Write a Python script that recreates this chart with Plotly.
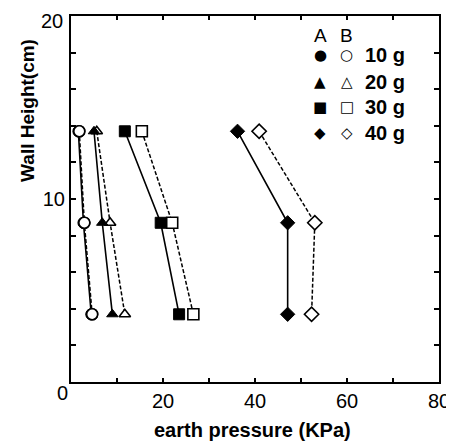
import plotly.graph_objects as go

heights = [13.7, 8.7, 3.7]
labels = ["10 g", "20 g", "30 g", "40 g"]
series_A = {
    "10 g": [1.6, 2.7, 4.4],
    "20 g": [5.0, 6.8, 9.0],
    "30 g": [11.7, 19.5, 23.5],
    "40 g": [36.2, 47.1, 47.1],
}
series_B = {
    "10 g": [1.8, 2.9, 4.6],
    "20 g": [5.6, 8.5, 11.7],
    "30 g": [15.4, 22.0, 26.6],
    "40 g": [40.9, 53.0, 52.3],
}
symbols = {"10 g": "circle", "20 g": "triangle-up", "30 g": "square", "40 g": "diamond"}
legend_glyphs = {"10 g": ("\u25cf", "\u25cb"), "20 g": ("\u25b2", "\u25b3"),
                 "30 g": ("\u25a0", "\u25a1"), "40 g": ("\u25c6", "\u25c7")}
x_ticks = [0, 10, 20, 30, 40, 50, 60, 70, 80]
x_ticklabels = ["", "", "20", "", "40", "", "60", "", "80"]
y_ticks = [0, 2, 4, 6, 8, 10, 12, 14, 16, 18, 20]
y_ticklabels = ["", "", "", "", "", "10", "", "", "", "", ""]
y_top_label = "20"

fig = go.Figure()
for lab in labels:
    sz = 10 if lab == "20 g" else 11
    fig.add_trace(go.Scatter(
        x=series_B[lab], y=heights, mode="lines+markers",
        line=dict(color="black", width=1.5, dash="4px,2px"),
        marker=dict(symbol=symbols[lab], size=sz, color="white",
                    line=dict(color="black", width=1.6)),
        showlegend=False))
    fig.add_trace(go.Scatter(
        x=series_A[lab], y=heights, mode="lines+markers",
        line=dict(color="black", width=1.6),
        marker=dict(symbol=symbols[lab], size=sz, color="black",
                    line=dict(color="black", width=1)),
        showlegend=False))
fig.add_trace(go.Scatter(
    x=series_B["10 g"], y=heights, mode="markers",
    marker=dict(symbol="circle", size=11, color="white", line=dict(color="black", width=1.6)),
    showlegend=False))

font = "Liberation Sans, Arial, sans-serif"
ann = []
for txt, xx in (("A", 0.677), ("B", 0.749)):
    ann.append(dict(x=xx, y=0.948, xref="paper", yref="paper", text=txt, showarrow=False,
                    font=dict(size=19, family=font, color="black"), xanchor="center", yanchor="middle"))
row_y = [0.893, 0.820, 0.751, 0.680]
for lab, yy in zip(labels, row_y):
    f, o = legend_glyphs[lab]
    ann.append(dict(x=0.677, y=yy, xref="paper", yref="paper", text=f, showarrow=False,
                    font=dict(size=15, family="DejaVu Sans", color="black"), xanchor="center", yanchor="middle"))
    ann.append(dict(x=0.749, y=yy, xref="paper", yref="paper", text=o, showarrow=False,
                    font=dict(size=15, family="DejaVu Sans", color="black"), xanchor="center", yanchor="middle"))
    ann.append(dict(x=0.793, y=yy, xref="paper", yref="paper", text="<b>" + lab + "</b>", showarrow=False,
                    font=dict(size=20, family=font, color="black"), xanchor="left", yanchor="middle"))
ann.append(dict(x=-0.12, y=0.743, xref="paper", yref="paper", text="<b>Wall Height(cm)</b>",
                textangle=-90, showarrow=False, font=dict(size=19, family=font, color="black"),
                xanchor="center", yanchor="middle"))
ann.append(dict(x=0.493, y=-0.13, xref="paper", yref="paper", text="<b>earth pressure (KPa)</b>",
                showarrow=False, font=dict(size=20, family=font, color="black"),
                xanchor="center", yanchor="middle"))
ann.append(dict(x=-0.024, y=-0.03, xref="paper", yref="paper", text="0", showarrow=False,
                font=dict(size=20, family=font, color="black"), xanchor="center", yanchor="middle"))
ann.append(dict(x=-0.016, y=1.0, xref="paper", yref="paper", text=y_top_label, showarrow=False,
                yshift=8, font=dict(size=20, family=font, color="black"), xanchor="right", yanchor="top"))

# the page body adds an 8 px offset; size and margins compensate for it
fig.update_layout(
    width=446, height=434,
    margin=dict(l=63, r=15, t=8, b=60),
    paper_bgcolor="white", plot_bgcolor="white",
    annotations=ann,
    font=dict(family=font, color="black"),
)
fig.update_xaxes(range=[0, 80], tickvals=x_ticks, ticktext=x_ticklabels, automargin=False,
                 ticks="inside", ticklen=4, tickwidth=1.5, tickcolor="black",
                 showline=True, linecolor="black", linewidth=2, mirror="ticks", showgrid=False,
                 zeroline=False, tickfont=dict(size=20, family=font), ticklabeloverflow="allow")
fig.update_yaxes(range=[0, 20], tickvals=y_ticks, ticktext=y_ticklabels, automargin=False,
                 ticks="inside", ticklen=5, tickwidth=1.5, tickcolor="black",
                 showline=True, linecolor="black", linewidth=2, mirror="ticks", showgrid=False,
                 zeroline=False, tickfont=dict(size=20, family=font), ticklabeloverflow="allow")
fig.write_html("out.html")
